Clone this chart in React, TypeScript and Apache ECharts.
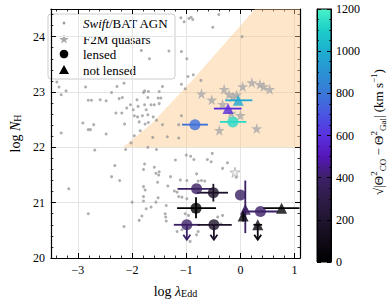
import { useEffect, useRef } from 'react';
import * as echarts from 'echarts';

const FONT = 'Liberation Serif';

// Swift/BAT AGN sample  [log lambda_Edd, log N_H]
const swiftAGN: [number, number][] = [
  [-1.10, 24.34], [-1.04, 24.27], [-0.95, 24.33], [-0.91, 24.35], [-0.88, 24.31], [-0.40, 24.40],
  [-0.51, 24.17], [0.03, 24.00], [-1.09, 23.73], [-0.99, 23.60], [-0.97, 23.28], [-0.87, 23.31],
  [-0.73, 23.21], [-1.09, 23.14], [-1.02, 23.06], [-1.83, 23.75], [-1.68, 23.60], [-1.32, 23.74],
  [-3.35, 23.09], [-2.86, 23.09], [-2.28, 23.10], [-2.15, 23.16], [-1.77, 23.02], [-1.44, 23.10],
  [-3.39, 23.18], [-3.22, 23.02], [-3.31, 22.95],
  [-2.81, 22.85], [-2.75, 22.85], [-2.59, 22.86], [-2.48, 22.84], [-2.38, 22.99], [-2.24, 22.88],
  [-2.18, 22.90], [-1.91, 22.86], [-1.79, 22.99], [-1.71, 22.90], [-1.70, 23.01], [-1.52, 22.89],
  [-1.50, 23.01], [-2.03, 22.77], [-2.10, 22.71], [-1.77, 22.77], [-1.65, 22.77], [-1.59, 22.77],
  [-1.89, 22.74], [-1.98, 22.68], [-1.74, 22.68], [-2.30, 22.62], [-2.19, 22.62], [-1.96, 22.57],
  [-1.90, 22.55], [-1.81, 22.57], [-1.71, 22.59], [-1.61, 22.55], [-1.55, 22.49], [-1.44, 22.41],
  [-1.87, 22.46], [-1.76, 22.42], [-1.70, 22.45], [-1.85, 22.30], [-2.14, 22.42], [-2.91, 22.44],
  [-2.71, 22.41], [-2.81, 22.32], [-2.77, 22.32], [-2.48, 22.24], [-3.31, 22.26], [-1.62, 22.18],
  [-1.96, 22.21], [-2.02, 22.08], [-1.71, 22.00], [-1.55, 21.96], [-2.69, 21.95], [-2.12, 21.96],
  [-1.20, 21.77], [-1.77, 21.70], [-2.32, 21.67], [-1.59, 21.64], [-1.79, 21.60], [-1.50, 21.56],
  [-1.56, 21.53], [-1.47, 22.89], [-1.50, 22.79], [-1.35, 22.19], [-1.14, 22.17],
  [-1.09, 22.57], [-1.14, 22.41], [-1.00, 21.86], [-0.92, 21.84], [-0.86, 21.78], [-0.61, 21.78],
  [-0.52, 21.89], [-0.54, 21.74], [-0.24, 21.72], [-0.33, 21.62], [-0.81, 21.52],
  [-2.38, 21.47], [-2.23, 21.40], [-3.17, 21.25], [-1.51, 21.50], [-1.29, 21.47], [-1.79, 21.29],
  [-1.76, 21.23], [-1.53, 21.37], [-1.34, 21.30], [-1.22, 21.21], [-1.79, 21.11], [-1.79, 21.03],
  [-1.52, 21.09], [-1.56, 21.01], [-2.00, 21.01], [-1.65, 20.92], [-1.74, 20.89], [-1.37, 20.95],
  [-2.81, 20.80], [-1.82, 20.76], [-1.87, 20.68], [-1.39, 20.80], [-1.38, 20.74], [-1.37, 20.67],
  [-2.15, 20.57],
  [-1.11, 21.41], [-0.99, 21.40], [-0.78, 21.39], [-0.72, 21.40], [-0.66, 21.39], [-1.17, 21.19],
  [-1.08, 21.10], [-1.14, 21.11], [-0.99, 21.07], [-1.02, 20.80], [-0.96, 20.77], [-1.17, 20.48],
  [-1.08, 20.51], [-0.78, 20.48], [-0.81, 20.42], [-0.93, 20.30], [-0.33, 20.77], [-0.42, 20.74],
  [-0.36, 20.62], [-0.08, 21.46],
];

// F2M red quasars
const f2mQuasars: [number, number][] = [
  [-0.72, 22.97], [-0.53, 22.86], [-0.30, 23.05], [-0.21, 22.96], [-0.14, 22.91], [-0.07, 22.95],
  [0.04, 23.10], [0.21, 23.17], [0.36, 23.14], [0.43, 23.10], [0.54, 23.05], [0.00, 22.58],
  [-0.39, 22.31], [0.30, 22.34], [-0.33, 22.78], [-0.17, 22.62],
];
const f2mFaint: [number, number][] = [[-0.10, 21.55]];

// [log lambda, log NH, xErrLo, xErrHi, yErrLo, yErrHi, upperLimit, sigma (km/s)]
const lensed: number[][] = [
  [-0.84, 22.41, 0.24, 0.24, 0, 0, 0, 780],
  [-0.14, 22.46, 0.24, 0.25, 0, 0, 0, 1130],
  [-0.81, 21.25, 0.35, 0.29, 0, 0, 0, 380],
  [-0.50, 21.18, 0.30, 0.27, 0.16, 0.16, 0, 170],
  [-0.82, 20.90, 0.35, 0.37, 0.18, 0.20, 0, 0],
  [-0.99, 20.60, 0.24, 0.24, 0, 0, 1, 390],
  [-0.49, 20.60, 0.30, 0.33, 0, 0, 1, 170],
  [0.00, 21.14, 0, 0, 0, 0, 0, 380],
  [0.37, 20.84, 0.32, 0.32, 0, 0, 0, 400],
];
const notLensed: number[][] = [
  [-0.23, 22.70, 0.26, 0.25, 0, 0, 0, 590],
  [-0.04, 22.85, 0.24, 0.26, 0, 0, 0, 980],
  [0.09, 20.88, 0.04, 0.04, 0.43, 0.52, 0, 380],
  [0.05, 20.76, 0.03, 0.03, 0.10, 0.10, 0, 60],
  [0.76, 20.90, 0.34, 0.33, 0, 0, 0, 20],
  [0.32, 20.60, 0.08, 0.08, 0, 0, 1, 60],
];

// effective Eddington limit boundary of the forbidden region
const forbiddenEdge: [number, number][] = [[-2.17, 22.0], [-1.65, 22.42], [-0.9, 23.2], [0.27, 24.5]];

const xMajorTicks = [-3, -2, -1, 0, 1];
const xMinorTicks = [-3.4, -3.2, -2.8, -2.6, -2.4, -2.2, -1.8, -1.6, -1.4, -1.2, -0.8, -0.6, -0.4, -0.2, 0.2, 0.4, 0.6, 0.8];
const X_MIN = -3.5, X_MAX = 1.1, Y_MIN = 20, Y_MAX = 24.5;
const CB_MAX = 1200;
const cmapColors = ['#000000', '#110a18', '#201530', '#2e1c48', '#3c2068', '#5516b8', '#5a30e0',
  '#4a56e2', '#3a78d8', '#2a92d2', '#1eaed0', '#1ccec8', '#48f2c8'];

function hexToRgb(h: string) {
  return [parseInt(h.slice(1, 3), 16), parseInt(h.slice(3, 5), 16), parseInt(h.slice(5, 7), 16)];
}
function cmap(v: number) {
  const n = cmapColors.length - 1;
  const t = (Math.max(0, Math.min(CB_MAX, v)) / CB_MAX) * n;
  const i = Math.min(n - 1, Math.floor(t));
  const f = t - i;
  const a = hexToRgb(cmapColors[i]), b = hexToRgb(cmapColors[i + 1]);
  const c = a.map((av, k) => Math.round(av + (b[k] - av) * f));
  return `rgb(${c[0]},${c[1]},${c[2]})`;
}

const starPath = 'path://M50,0 L61,35 L98,35 L68,57 L79,91 L50,70 L21,91 L32,57 L2,35 L39,35 Z';

export default function App() {
  const ref = useRef<HTMLDivElement>(null);
  useEffect(() => {
    if (!ref.current) return;
    const chart = echarts.init(ref.current, undefined, { renderer: 'svg' });
    const minus = (v: number) => String(v).replace('-', '\u2212');
    const line = { show: true, onZero: false, lineStyle: { color: '#000', width: 1.2 } };
    const tick = { show: true, inside: true, length: 5, lineStyle: { color: '#000', width: 1 } };
    const minorTick = { show: true, splitNumber: 5, length: 2.5, lineStyle: { color: '#000', width: 0.8 } };
    const nameRich = {
      n: { fontFamily: FONT, fontSize: 14, color: '#000', lineHeight: 18, verticalAlign: 'bottom' },
      i: { fontFamily: FONT, fontSize: 14, fontStyle: 'italic', color: '#000', lineHeight: 18, verticalAlign: 'bottom' },
      s: { fontFamily: FONT, fontSize: 10, color: '#000', lineHeight: 9, verticalAlign: 'bottom' },
    };
    const errRender = (params: any, api: any) => {
      const x = api.value(0), y = api.value(1);
      const xl = api.value(2), xh = api.value(3), yl = api.value(4), yh = api.value(5);
      const lim = api.value(6), v = api.value(7);
      const c = cmap(v);
      const children: any[] = [];
      const st = { stroke: c, lineWidth: 1.8 };
      if (xl || xh) {
        const p1 = api.coord([x - xl, y]), p2 = api.coord([x + xh, y]);
        children.push({ type: 'line', shape: { x1: p1[0], y1: p1[1], x2: p2[0], y2: p2[1] }, style: st });
      }
      if (yl || yh) {
        const p1 = api.coord([x, y - yl]), p2 = api.coord([x, y + yh]);
        children.push({ type: 'line', shape: { x1: p1[0], y1: p1[1], x2: p2[0], y2: p2[1] }, style: st });
      }
      if (lim) {
        const p1 = api.coord([x, y]), p2 = api.coord([x, y - 0.27]);
        children.push({ type: 'line', shape: { x1: p1[0], y1: p1[1], x2: p2[0], y2: p2[1] }, style: st });
        children.push({ type: 'polyline', shape: { points: [[p2[0] - 3.5, p2[1] - 5], [p2[0], p2[1]], [p2[0] + 3.5, p2[1] - 5]] }, style: { ...st, fill: 'none' } });
      }
      return { type: 'group', children };
    };
    const cbStops = cmapColors.map((c, i) => ({ offset: i / (cmapColors.length - 1), color: c }));
    const xMinorAxis = (pos: string) => ({
      type: 'value', min: X_MIN, max: X_MAX, gridIndex: 0, position: pos,
      axisLine: { show: false, onZero: false },
      axisTick: { show: true, inside: true, length: 2.5, customValues: xMinorTicks, lineStyle: { color: '#000', width: 0.8 } },
      axisLabel: { show: false }, splitLine: { show: false },
    });
    const option: any = {
      animation: false,
      grid: [
        { left: 43, top: 9, width: 257, height: 252 },
        { left: 317, top: 9, width: 14, height: 253 },
      ],
      xAxis: [
        {
          type: 'value', min: X_MIN, max: X_MAX, gridIndex: 0, position: 'bottom',
          axisLine: line,
          axisTick: { ...tick, customValues: xMajorTicks },
          axisLabel: { color: '#000', fontFamily: FONT, fontSize: 12, margin: 6, customValues: xMajorTicks, formatter: (v: number) => minus(v) },
          splitLine: { show: true, lineStyle: { color: '#e4e4e4', width: 1 } },
          name: '{n|log }{i|λ}{s|Edd}', nameLocation: 'middle', nameGap: 22,
          nameTextStyle: { rich: nameRich },
        },
        {
          type: 'value', min: X_MIN, max: X_MAX, gridIndex: 0, position: 'top',
          axisLine: line, axisTick: { ...tick, customValues: xMajorTicks },
          axisLabel: { show: false, customValues: xMajorTicks }, splitLine: { show: false },
        },
        xMinorAxis('bottom'),
        xMinorAxis('top'),
        { type: 'value', gridIndex: 1, min: 0, max: 1, show: false },
      ],
      yAxis: [
        {
          type: 'value', min: Y_MIN, max: Y_MAX, interval: 1, gridIndex: 0, position: 'left',
          axisLine: line, axisTick: tick, minorTick,
          axisLabel: { color: '#000', fontFamily: FONT, fontSize: 12, margin: 6, formatter: (v: number) => (Number.isInteger(v) ? String(v) : '') },
          splitLine: { show: true, lineStyle: { color: '#e4e4e4', width: 1 } },
          name: '{n|log }{i|N}{s|H}', nameLocation: 'middle', nameGap: 22, nameRotate: 90,
          nameTextStyle: { rich: nameRich },
        },
        {
          type: 'value', min: Y_MIN, max: Y_MAX, interval: 1, gridIndex: 0, position: 'right',
          axisLine: line, axisTick: tick, minorTick, axisLabel: { show: false }, splitLine: { show: false },
        },
        {
          type: 'value', min: 0, max: CB_MAX, interval: 200, gridIndex: 1, position: 'right', z: 10,
          axisLine: { show: true, onZero: false, lineStyle: { color: '#000', width: 1 } },
          axisTick: { show: true, inside: true, length: 4, lineStyle: { color: '#000', width: 1 } },
          minorTick: { show: true, splitNumber: 4, length: 2, lineStyle: { color: '#000', width: 0.8 } },
          axisLabel: { color: '#000', fontFamily: FONT, fontSize: 12, margin: 5, formatter: (v: number) => String(v) },
          splitLine: { show: false },
        },
        {
          type: 'value', min: 0, max: CB_MAX, interval: 200, gridIndex: 1, position: 'left', z: 10,
          axisLine: { show: true, onZero: false, lineStyle: { color: '#000', width: 1 } },
          axisTick: { show: true, inside: true, length: 4, lineStyle: { color: '#000', width: 1 } },
          minorTick: { show: true, splitNumber: 4, length: 2, lineStyle: { color: '#000', width: 0.8 } },
          axisLabel: { show: false }, splitLine: { show: false },
        },
      ],
      series: [
        {
          type: 'custom', xAxisIndex: 0, yAxisIndex: 0, clip: true, silent: true, z: 1,
          data: [[0, 0]],
          renderItem: (params: any, api: any) => {
            const pts = forbiddenEdge.map((p) => api.coord(p));
            pts.push(api.coord([X_MAX, Y_MAX]));
            pts.push(api.coord([X_MAX, forbiddenEdge[0][1]]));
            return { type: 'polygon', shape: { points: pts }, style: { fill: 'rgba(253,200,140,0.45)' } };
          },
        },
        {
          type: 'scatter', xAxisIndex: 0, yAxisIndex: 0, z: 2, symbol: 'circle', symbolSize: 3,
          itemStyle: { color: '#9a9a9a' }, data: swiftAGN,
        },
        {
          type: 'scatter', xAxisIndex: 0, yAxisIndex: 0, z: 3, symbol: starPath, symbolSize: 11,
          itemStyle: { color: '#a9a9a9' }, data: f2mQuasars,
        },
        {
          type: 'scatter', xAxisIndex: 0, yAxisIndex: 0, z: 3, symbol: starPath, symbolSize: 10,
          itemStyle: { color: '#e8e8e8', borderColor: '#b0b0b0', borderWidth: 1 }, data: f2mFaint,
        },
        {
          type: 'custom', xAxisIndex: 0, yAxisIndex: 0, z: 4, clip: true, silent: true,
          data: [...lensed, ...notLensed], renderItem: errRender,
        },
        {
          type: 'scatter', xAxisIndex: 0, yAxisIndex: 0, z: 5, symbol: 'circle', symbolSize: 11,
          data: lensed.map((d) => ({ value: [d[0], d[1]], itemStyle: { color: cmap(d[7]) } })),
        },
        {
          type: 'scatter', xAxisIndex: 0, yAxisIndex: 0, z: 5, symbol: 'triangle', symbolSize: 11,
          data: notLensed.map((d) => ({ value: [d[0], d[1]], itemStyle: { color: cmap(d[7]) } })),
        },
      ],
      graphic: [
        {
          type: 'rect', z: -1, shape: { x: 317, y: 9, width: 14, height: 253 },
          style: { fill: new echarts.graphic.LinearGradient(0, 1, 0, 0, cbStops), stroke: '#000', lineWidth: 1 },
        },
        {
          type: 'group', z: 50,
          children: [
            { type: 'rect', shape: { x: 48, y: 14, width: 127, height: 65, r: 3 }, style: { fill: 'rgba(255,255,255,0.8)', stroke: '#cccccc', lineWidth: 1 } },
            { type: 'circle', shape: { cx: 64, cy: 23, r: 1.4 }, style: { fill: '#9a9a9a' } },
            { type: 'polygon', shape: { points: [[64, 34.5], [65.2, 38], [68.8, 38], [65.9, 40.2], [67, 43.6], [64, 41.6], [61, 43.6], [62.1, 40.2], [59.2, 38], [62.8, 38]] }, style: { fill: '#a9a9a9' } },
            { type: 'circle', shape: { cx: 64, cy: 54, r: 4.3 }, style: { fill: '#000' } },
            { type: 'polygon', shape: { points: [[64, 65], [69, 74], [59, 74]] }, style: { fill: '#000' } },
            {
              type: 'text', x: 83, y: 23,
              style: {
                text: '{i|Swift}{n|/BAT AGN}', verticalAlign: 'middle',
                rich: { i: { fontFamily: FONT, fontSize: 13, fontStyle: 'italic', fill: '#000' }, n: { fontFamily: FONT, fontSize: 13, fill: '#000' } },
              },
            },
            { type: 'text', x: 83, y: 39, style: { text: 'F2M quasars', fontFamily: FONT, fontSize: 13, fill: '#000', verticalAlign: 'middle' } },
            { type: 'text', x: 83, y: 54, style: { text: 'lensed', fontFamily: FONT, fontSize: 13, fill: '#000', verticalAlign: 'middle' } },
            { type: 'text', x: 83, y: 70, style: { text: 'not lensed', fontFamily: FONT, fontSize: 13, fill: '#000', verticalAlign: 'middle' } },
          ],
        },
        {
          type: 'text', x: 378, y: 132, rotation: Math.PI / 2,
          style: {
            text: '{m|√|Θ}{sp|2}{sb|CO}{m| − Θ}{sp|2}{sb|Gal}{m|| (km s}{sp|−1}{m|)}',
            align: 'center', verticalAlign: 'middle',
            rich: {
              m: { fontFamily: FONT, fontSize: 13, fill: '#000', lineHeight: 18, verticalAlign: 'middle' },
              sp: { fontFamily: FONT, fontSize: 9, fill: '#000', lineHeight: 8, verticalAlign: 'top' },
              sb: { fontFamily: FONT, fontSize: 9, fill: '#000', lineHeight: 8, verticalAlign: 'bottom' },
            },
          },
        },
      ],
    };
    chart.setOption(option);
    return () => chart.dispose();
  }, []);
  return <div ref={ref} style={{ position: 'absolute', left: 0, top: 0, width: 390, height: 303 }} />;
}
